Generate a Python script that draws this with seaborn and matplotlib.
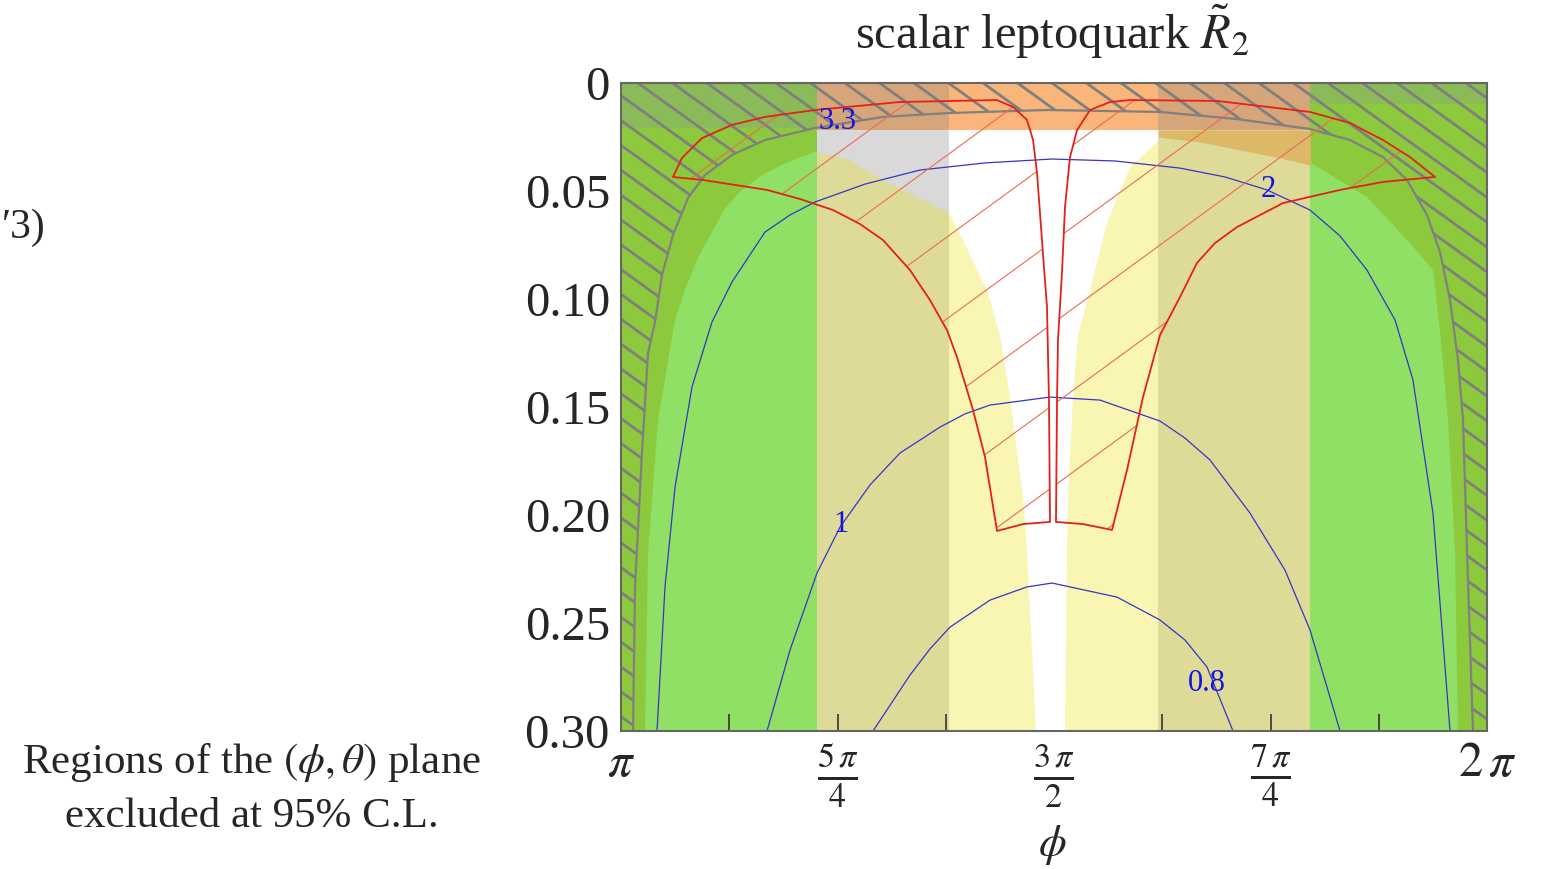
import numpy as np
import matplotlib
matplotlib.use("Agg")
import matplotlib.pyplot as plt
import seaborn as sns
from matplotlib.patches import Polygon, Rectangle
from matplotlib.collections import LineCollection

# ---------------- data (phi in units of pi, theta) ----------------
# vertical band edges (phi/pi)
band_edges = [1.0, 1.2260, 1.3788, 1.6205, 1.7960, 2.0]
inside_colors = ['#8FE064', '#DEDB99', '#F8F6B2', '#DEDB99', '#8FE064']
outside_colors = ['#8CC93C', '#D9D9D9', '#FFFFFF', '#D9D9D9', '#8CC93C']
top_colors = ['#8BBB58', '#D6A67A', '#FAB67A', '#D6A67A', '#8BBB58']
top_depth = [0.0208, 0.0218, 0.0218, 0.0218, 0.0097]

# boundary of the yellow / light-green allowed region (M shape)
yb_phi = [1.0277, 1.0312, 1.0427, 1.0624, 1.0751, 1.0889, 1.1201, 1.1397, 1.1628, 1.1928,
          1.2240, 1.2644, 1.3025, 1.3418, 1.3788, 1.3949, 1.4226, 1.4376, 1.4492, 1.4642,
          1.4688, 1.4792, 1.5127, 1.5150, 1.5162, 1.5219, 1.5277, 1.5416, 1.5612, 1.5878,
          1.6224, 1.6455, 1.7148, 1.7841, 1.7968, 1.8614, 1.9111, 1.9376, 1.9457, 1.9550,
          1.9630, 1.9665]
yb_theta = [0.300, 0.2176, 0.1560, 0.1097, 0.0944, 0.0810, 0.0579, 0.0495, 0.0426, 0.0366,
            0.0319, 0.0356, 0.0449, 0.0528, 0.0602, 0.0727, 0.0958, 0.1167, 0.1454, 0.1917,
            0.2162, 0.300, 0.300, 0.2162, 0.1917, 0.1454, 0.1167, 0.0958, 0.0648, 0.0389,
            0.0264, 0.0218, 0.0218, 0.0218, 0.0370, 0.0528, 0.0741, 0.0866, 0.1144, 0.1560,
            0.2162, 0.300]

# golden patch (right grey band, below the top band)
gold_phi = [1.6205, 1.6686, 1.7148, 1.7610, 1.7960]
gold_theta = [0.0250, 0.0273, 0.0310, 0.0347, 0.0380]

# grey hatched exclusion boundary
gate_phi = [1.0139, 1.0162, 1.0242, 1.0312, 1.0393, 1.0473, 1.0600, 1.0774, 1.0970,
            1.1282, 1.1663, 1.2240, 1.3025, 1.3788, 1.4919, 1.6224, 1.7113, 1.7956,
            1.8418, 1.8799, 1.9076, 1.9307, 1.9457, 1.9573, 1.9665, 1.9723, 1.9769,
            1.9838]
gate_theta = [0.300, 0.2333, 0.1713, 0.1250, 0.1106, 0.0889, 0.0704, 0.0532, 0.0426,
              0.0333, 0.0264, 0.0208, 0.0157, 0.0139, 0.0125, 0.0134, 0.0167, 0.0213,
              0.0264, 0.0343, 0.0449, 0.0611, 0.0782, 0.1005, 0.1282, 0.1560, 0.2162,
              0.300]

# red hatched region: left lobe and right lobe
red_left_phi = [1.0600, 1.0704, 1.0935, 1.1282, 1.1663, 1.2240, 1.3222, 1.4342, 1.4527,
                1.4688, 1.4758, 1.4804, 1.4861, 1.4919, 1.4942, 1.4954, 1.4642, 1.4342,
                1.4203, 1.4065, 1.3880, 1.3764, 1.3568, 1.3337, 1.3025, 1.2760, 1.2448,
                1.2067, 1.1686, 1.0947]
red_left_theta = [0.0435, 0.0347, 0.0255, 0.0194, 0.0157, 0.0125, 0.0088, 0.0079, 0.0111,
                  0.0171, 0.0264, 0.0417, 0.0727, 0.1037, 0.1468, 0.2032, 0.2042, 0.2074,
                  0.1731, 0.1514, 0.1269, 0.1144, 0.1005, 0.0866, 0.0727, 0.0653, 0.0588,
                  0.0537, 0.0495, 0.0449]
red_right_phi = [1.5023, 1.5035, 1.5046, 1.5092, 1.5127, 1.5185, 1.5266, 1.5416, 1.5647,
                 1.5878, 1.6882, 1.7956, 1.8418, 1.8799, 1.9111, 1.9400, 1.8799, 1.8303,
                 1.7644, 1.7113, 1.6859, 1.6651, 1.6455, 1.6224, 1.6028, 1.5843, 1.5670,
                 1.5335]
red_right_theta = [0.2032, 0.1468, 0.1190, 0.0880, 0.0574, 0.0343, 0.0218, 0.0125, 0.0088,
                   0.0079, 0.0083, 0.0134, 0.0185, 0.0264, 0.0343, 0.0435, 0.0458, 0.0495,
                   0.0556, 0.0667, 0.0741, 0.0833, 0.0991, 0.1167, 0.1454, 0.1792, 0.2069,
                   0.2042]

# blue contours
c2_phi = [1.0416, 1.0508, 1.0624, 1.0820, 1.1051, 1.1282, 1.1663, 1.1952, 1.2240, 1.2818,
          1.3453, 1.4203, 1.4977, 1.5704, 1.6455, 1.6975, 1.7460, 1.7956, 1.8303, 1.8614,
          1.8938, 1.9145, 1.9376, 1.9573]
c2_theta = [0.300, 0.2333, 0.1870, 0.1407, 0.1106, 0.0921, 0.0690, 0.0611, 0.0551, 0.0468,
            0.0403, 0.0370, 0.0352, 0.0361, 0.0394, 0.0435, 0.0495, 0.0588, 0.0708, 0.0866,
            0.1097, 0.1375, 0.1991, 0.300]
c1_phi = [1.1686, 1.1952, 1.2263, 1.2529, 1.2875, 1.3222, 1.3684, 1.3972, 1.4261, 1.4954,
          1.5531, 1.6224, 1.6513, 1.6801, 1.7263, 1.7667, 1.7956, 1.8303]
c1_theta = [0.300, 0.2625, 0.2269, 0.2056, 0.1861, 0.1713, 0.1593, 0.1532, 0.1491, 0.1454,
            0.1468, 0.1565, 0.1644, 0.1745, 0.1991, 0.2255, 0.2532, 0.300]
c08_phi = [1.2910, 1.3337, 1.3568, 1.3799, 1.4261, 1.4688, 1.4977, 1.5727, 1.6224, 1.6513,
           1.6767, 1.7067]
c08_theta = [0.300, 0.2741, 0.2620, 0.2519, 0.2394, 0.2333, 0.2315, 0.2380, 0.2486, 0.2579,
             0.2704, 0.300]
contour_labels = ['3.3', '2', '1', '0.8']
label_phi = [1.2506, 1.7471, 1.2540, 1.6767]
label_theta = [0.0176, 0.0495, 0.2046, 0.2778]

x_ticks = [1.0, 1.25, 1.5, 1.75, 2.0]
x_ticklabels = [r'$\pi$', r'$\frac{5\,\pi}{4}$', r'$\frac{3\,\pi}{2}$',
                r'$\frac{7\,\pi}{4}$', r'$2\,\pi$']
y_ticks = [0.0, 0.05, 0.10, 0.15, 0.20, 0.25, 0.30]
y_ticklabels = ['0', '0.05', '0.10', '0.15', '0.20', '0.25', '0.30']

# ---------------- styling ----------------
sns.set_theme(style="white")
plt.rcParams['font.family'] = ['Liberation Serif', 'DejaVu Serif']
plt.rcParams['mathtext.fontset'] = 'stix'

W_PX, H_PX = 1543, 869
fig = plt.figure(figsize=(W_PX / 100, H_PX / 100), dpi=100)
ax_l, ax_r, ax_t, ax_b = 621, 1487, 83, 731
ax = fig.add_axes([ax_l / W_PX, 1 - ax_b / H_PX, (ax_r - ax_l) / W_PX, (ax_b - ax_t) / H_PX])
AW, AH = ax_r - ax_l, ax_b - ax_t

zones = list(zip(band_edges[:-1], band_edges[1:]))


def clip_rect(a, b):
    return Rectangle((a, 0.0), b - a, 0.30, transform=ax.transData)


# inside colours (vertical bands)
for (a, b), col in zip(zones, inside_colors):
    ax.axvspan(a, b, color=col, lw=0, zorder=0)

# outside the yellow region
out_verts = np.column_stack([[1.0] + yb_phi + [2.0, 2.0, 1.0],
                             [0.30] + yb_theta + [0.30, 0.0, 0.0]])
for (a, b), col in zip(zones, outside_colors):
    p = Polygon(out_verts, closed=True, facecolor=col, edgecolor='none', zorder=1)
    ax.add_patch(p)
    p.set_clip_path(clip_rect(a, b))

# top band
for (a, b), col, d in zip(zones, top_colors, top_depth):
    ax.fill_between([a, b], [0, 0], [d, d], color=col, lw=0, zorder=2)
ax.fill_between(gold_phi, [0.0218] * len(gold_phi), gold_theta, color='#DDB866', lw=0, zorder=2)

# grey hatching outside the exclusion boundary
hatch_verts = np.column_stack([[1.0] + gate_phi + [2.0, 2.0, 1.0],
                               [0.30] + gate_theta + [0.30, 0.0, 0.0]])
hatch_clip = Polygon(hatch_verts, closed=True, transform=ax.transData)
g_slope, g_step, g_phase = 0.72, 34.5, 17.0
g_x0 = np.arange(g_phase - g_step * 40, AW + g_step, g_step)
g_segs = [[(x0 / AW, 1.0), ((x0 + AH / g_slope) / AW, 0.0)] for x0 in g_x0]
lc = LineCollection(g_segs, colors='#7F7F7F', linewidths=2.0, transform=ax.transAxes, zorder=3)
ax.add_collection(lc, autolim=False)
lc.set_clip_path(hatch_clip)
sns.lineplot(x=gate_phi, y=gate_theta, sort=False, estimator=None, color='#808080',
             lw=1.6, ax=ax, zorder=3)

# blue contours
blue = '#3535C8'
for ph, th in [(c2_phi, c2_theta), (c1_phi, c1_theta), (c08_phi, c08_theta)]:
    sns.lineplot(x=ph, y=th, sort=False, estimator=None, color=blue, lw=0.9, ax=ax, zorder=4)
for lab, ph, th in zip(contour_labels, label_phi, label_theta):
    ax.text(ph, th, lab, color='#1515E0', fontsize=22, ha='center', va='center', zorder=7)

# red hatched region
r_slope, r_step, r_phase = 0.73, 112.0, 761.0
r_x0 = np.arange(r_phase - r_step * 20, AW + AH / r_slope + r_step, r_step)
r_segs = [[(x0 / AW, 1.0), ((x0 - AH / r_slope) / AW, 0.0)] for x0 in r_x0]
for ph, th in [(red_left_phi, red_left_theta), (red_right_phi, red_right_theta)]:
    verts = np.column_stack([ph, th])
    outline = Polygon(verts, closed=True, fill=False, edgecolor='#E2221A', lw=1.3,
                      joinstyle='round', zorder=6)
    ax.add_patch(outline)
    clip = Polygon(verts, closed=True, transform=ax.transData)
    rlc = LineCollection(r_segs, colors='#EC6A52', linewidths=0.8, transform=ax.transAxes, zorder=5)
    ax.add_collection(rlc, autolim=False)
    rlc.set_clip_path(clip)

# axes formatting
ax.set_xlim(1.0, 2.0)
ax.set_ylim(0.30, 0.0)
ax.set_xticks(x_ticks)
ax.set_xticklabels(x_ticklabels)
ax.set_xticks(np.arange(1.0, 2.0001, 0.125), minor=True)
ax.set_yticks(y_ticks)
ax.set_yticklabels(y_ticklabels)
ax.set_yticks(np.arange(0.0, 0.3001, 0.01), minor=True)
ax.tick_params(axis='x', which='both', direction='in', length=12, width=1.2, top=True,
               bottom=True, color='#333333', labelsize=35, pad=8)
ax.tick_params(axis='y', which='major', direction='in', length=10, width=1.2, left=True,
               right=True, color='#333333', labelsize=35, pad=8)
ax.tick_params(axis='y', which='minor', direction='in', length=6, width=1.0, left=True,
               right=True, color='#333333')
for s in ax.spines.values():
    s.set_color('#666666')
    s.set_linewidth(1.5)
    s.set_zorder(10)
ax.set_xlabel('')
ax.set_ylabel('')

# texts
fig.text(1052 / W_PX, 1 - 32 / H_PX, r'scalar leptoquark $\tilde{R}_2$', ha='center',
         va='center', fontsize=35)
fig.text(1052 / W_PX, 1 - 845 / H_PX, r'$\phi$', ha='center', va='center', fontsize=32)
fig.text(252 / W_PX, 1 - 762 / H_PX, r'Regions of the $(\phi, \theta)$ plane', ha='center',
         va='center', fontsize=31)
fig.text(252 / W_PX, 1 - 817 / H_PX, 'excluded at 95% C.L.', ha='center', va='center',
         fontsize=31)
fig.text(2 / W_PX, 1 - 228 / H_PX, '\u20323)', ha='left', va='center', fontsize=30)

fig.savefig('out.png', dpi=100)
